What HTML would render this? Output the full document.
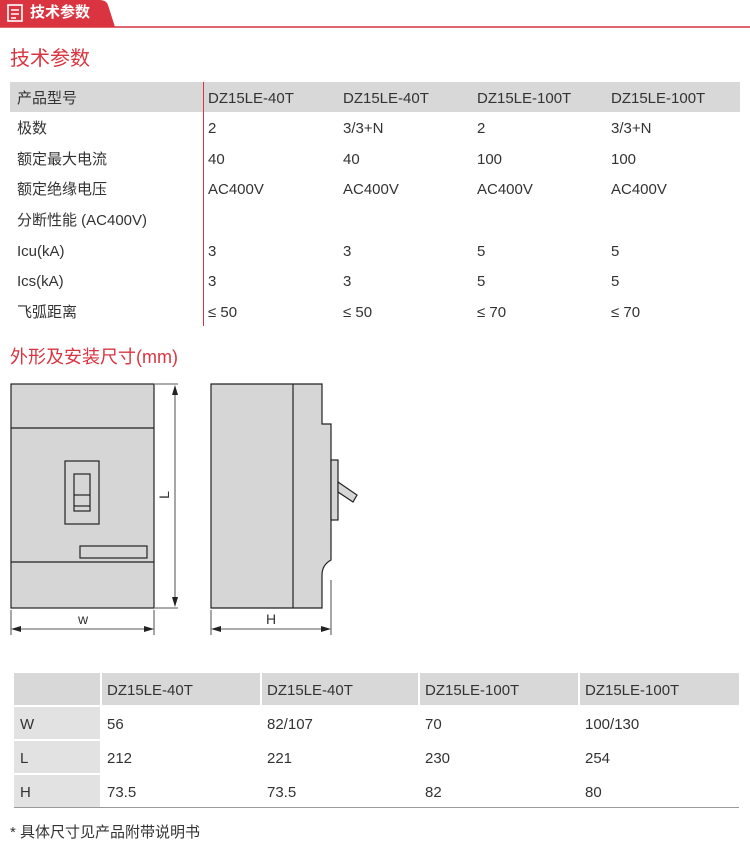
<!DOCTYPE html>
<html><head><meta charset="utf-8"><style>
body{margin:0;width:750px;height:853px;background:#fff;font-family:"Liberation Sans","Noto Sans CJK SC",sans-serif;color:#333;position:relative;overflow:hidden}
.a{position:absolute;white-space:nowrap}
.t1{font-size:15px;line-height:20px;height:20px;margin-top:2px}
</style></head><body>
<svg class="a" style="left:0;top:0" width="750" height="30">
<path d="M0 0H100Q106 0 108 5L115 27H0Z" fill="#d9343f"/>
<line x1="0" y1="27" x2="750" y2="27" stroke="#d9343f" stroke-width="1.5"/>
<rect x="8" y="5" width="14" height="16" fill="none" stroke="#fff" stroke-width="1.6"/>
<line x1="11" y1="10" x2="19" y2="10" stroke="#fff" stroke-width="1.5"/>
<line x1="11" y1="14" x2="19" y2="14" stroke="#fff" stroke-width="1.5"/>
<line x1="11" y1="18" x2="16" y2="18" stroke="#fff" stroke-width="1.5"/>
</svg>
<div class="a" style="left:30px;top:3px;color:#fff;font-size:15px;line-height:20px;font-weight:bold">技术参数</div>
<div class="a" style="left:10px;top:46px;color:#d9343f;font-size:20px;line-height:26px">技术参数</div>
<div class="a" style="left:10px;top:82px;width:730px;height:30px;background:#d8d8d8"></div>
<div class="a" style="left:203px;top:82px;width:1px;height:244px;background:#d9343f"></div>
<div class="a t1" style="left:17px;top:87px">产品型号</div>
<div class="a t1" style="left:208px;top:87px">DZ15LE-40T</div>
<div class="a t1" style="left:343px;top:87px">DZ15LE-40T</div>
<div class="a t1" style="left:477px;top:87px">DZ15LE-100T</div>
<div class="a t1" style="left:611px;top:87px">DZ15LE-100T</div>
<div class="a t1" style="left:17px;top:117px">极数</div><div class="a t1" style="left:208px;top:117px">2</div><div class="a t1" style="left:343px;top:117px">3/3+N</div><div class="a t1" style="left:477px;top:117px">2</div><div class="a t1" style="left:611px;top:117px">3/3+N</div>
<div class="a t1" style="left:17px;top:148px">额定最大电流</div><div class="a t1" style="left:208px;top:148px">40</div><div class="a t1" style="left:343px;top:148px">40</div><div class="a t1" style="left:477px;top:148px">100</div><div class="a t1" style="left:611px;top:148px">100</div>
<div class="a t1" style="left:17px;top:178px">额定绝缘电压</div><div class="a t1" style="left:208px;top:178px">AC400V</div><div class="a t1" style="left:343px;top:178px">AC400V</div><div class="a t1" style="left:477px;top:178px">AC400V</div><div class="a t1" style="left:611px;top:178px">AC400V</div>
<div class="a t1" style="left:17px;top:209px">分断性能 (AC400V)</div>
<div class="a t1" style="left:17px;top:240px">Icu(kA)</div><div class="a t1" style="left:208px;top:240px">3</div><div class="a t1" style="left:343px;top:240px">3</div><div class="a t1" style="left:477px;top:240px">5</div><div class="a t1" style="left:611px;top:240px">5</div>
<div class="a t1" style="left:17px;top:270px">Ics(kA)</div><div class="a t1" style="left:208px;top:270px">3</div><div class="a t1" style="left:343px;top:270px">3</div><div class="a t1" style="left:477px;top:270px">5</div><div class="a t1" style="left:611px;top:270px">5</div>
<div class="a t1" style="left:17px;top:301px">飞弧距离</div><div class="a t1" style="left:208px;top:301px">≤ 50</div><div class="a t1" style="left:343px;top:301px">≤ 50</div><div class="a t1" style="left:477px;top:301px">≤ 70</div><div class="a t1" style="left:611px;top:301px">≤ 70</div>
<div class="a" style="left:10px;top:345px;color:#d9343f;font-size:18px;line-height:24px">外形及安装尺寸(mm)</div>
<svg class="a" style="left:0;top:370px" width="380" height="270" fill="none" stroke="#222" stroke-width="1.2">
<g transform="translate(0,-370)">
<rect x="11" y="384" width="143" height="224" fill="#d6d6d6"/>
<line x1="11" y1="428" x2="154" y2="428"/><line x1="11" y1="562" x2="154" y2="562"/>
<rect x="65" y="461" width="34" height="63"/>
<rect x="74" y="474" width="16" height="37"/><line x1="74" y1="495" x2="90" y2="495"/><line x1="74" y1="506" x2="90" y2="506"/>
<rect x="80" y="546" width="67" height="12"/>
<g stroke-width="0.8"><line x1="155" y1="384" x2="178" y2="384"/><line x1="155" y1="608" x2="178" y2="608"/><line x1="175" y1="388" x2="175" y2="604"/>
<line x1="11" y1="610" x2="11" y2="635"/><line x1="154" y1="610" x2="154" y2="635"/><line x1="14" y1="629" x2="151" y2="629"/>
<line x1="211" y1="610" x2="211" y2="635"/><line x1="331" y1="580" x2="331" y2="635"/><line x1="214" y1="629" x2="328" y2="629"/></g>
<g fill="#222" stroke="none"><path d="M175 385l-3 10h6z"/><path d="M175 607l-3-10h6z"/><path d="M11 629l10-3v6z"/><path d="M154 629l-10-3v6z"/><path d="M211 629l10-3v6z"/><path d="M331 629l-10-3v6z"/></g>
<path d="M211 384H322V424H331V560Q322 565 322 575V608H211Z" fill="#d6d6d6"/>
<line x1="293" y1="384" x2="293" y2="608"/>
<rect x="331" y="460" width="7" height="60" fill="#d6d6d6"/>
<path d="M338 482L357 495L353 502L338 492Z" fill="#d6d6d6"/>
</g></svg>
<div class="a" style="left:160px;top:486px;font-size:14px;line-height:18px;transform:rotate(-90deg)">L</div>
<div class="a" style="left:78px;top:610px;font-size:14px;line-height:18px">w</div>
<div class="a" style="left:266px;top:610px;font-size:14px;line-height:18px">H</div>
<div class="a" style="left:14px;top:673px;width:86px;height:32px;background:#d8d8d8"></div>
<div class="a" style="left:102px;top:673px;width:158px;height:32px;background:#d8d8d8"></div>
<div class="a" style="left:262px;top:673px;width:156px;height:32px;background:#d8d8d8"></div>
<div class="a" style="left:420px;top:673px;width:158px;height:32px;background:#d8d8d8"></div>
<div class="a" style="left:580px;top:673px;width:159px;height:32px;background:#d8d8d8"></div>
<div class="a" style="left:14px;top:707px;width:86px;height:32px;background:#e2e2e2"></div>
<div class="a" style="left:14px;top:741px;width:86px;height:32px;background:#e2e2e2"></div>
<div class="a" style="left:14px;top:775px;width:86px;height:32px;background:#e2e2e2"></div>
<div class="a" style="left:14px;top:807px;width:725px;height:1px;background:#999"></div>
<div class="a t1" style="left:107px;top:679px">DZ15LE-40T</div><div class="a t1" style="left:267px;top:679px">DZ15LE-40T</div><div class="a t1" style="left:425px;top:679px">DZ15LE-100T</div><div class="a t1" style="left:585px;top:679px">DZ15LE-100T</div>
<div class="a t1" style="left:20px;top:713px">W</div><div class="a t1" style="left:107px;top:713px">56</div><div class="a t1" style="left:267px;top:713px">82/107</div><div class="a t1" style="left:425px;top:713px">70</div><div class="a t1" style="left:585px;top:713px">100/130</div>
<div class="a t1" style="left:20px;top:747px">L</div><div class="a t1" style="left:107px;top:747px">212</div><div class="a t1" style="left:267px;top:747px">221</div><div class="a t1" style="left:425px;top:747px">230</div><div class="a t1" style="left:585px;top:747px">254</div>
<div class="a t1" style="left:20px;top:781px">H</div><div class="a t1" style="left:107px;top:781px">73.5</div><div class="a t1" style="left:267px;top:781px">73.5</div><div class="a t1" style="left:425px;top:781px">82</div><div class="a t1" style="left:585px;top:781px">80</div>
<div class="a t1" style="left:10px;top:821px">* 具体尺寸见产品附带说明书</div>
</body></html>
